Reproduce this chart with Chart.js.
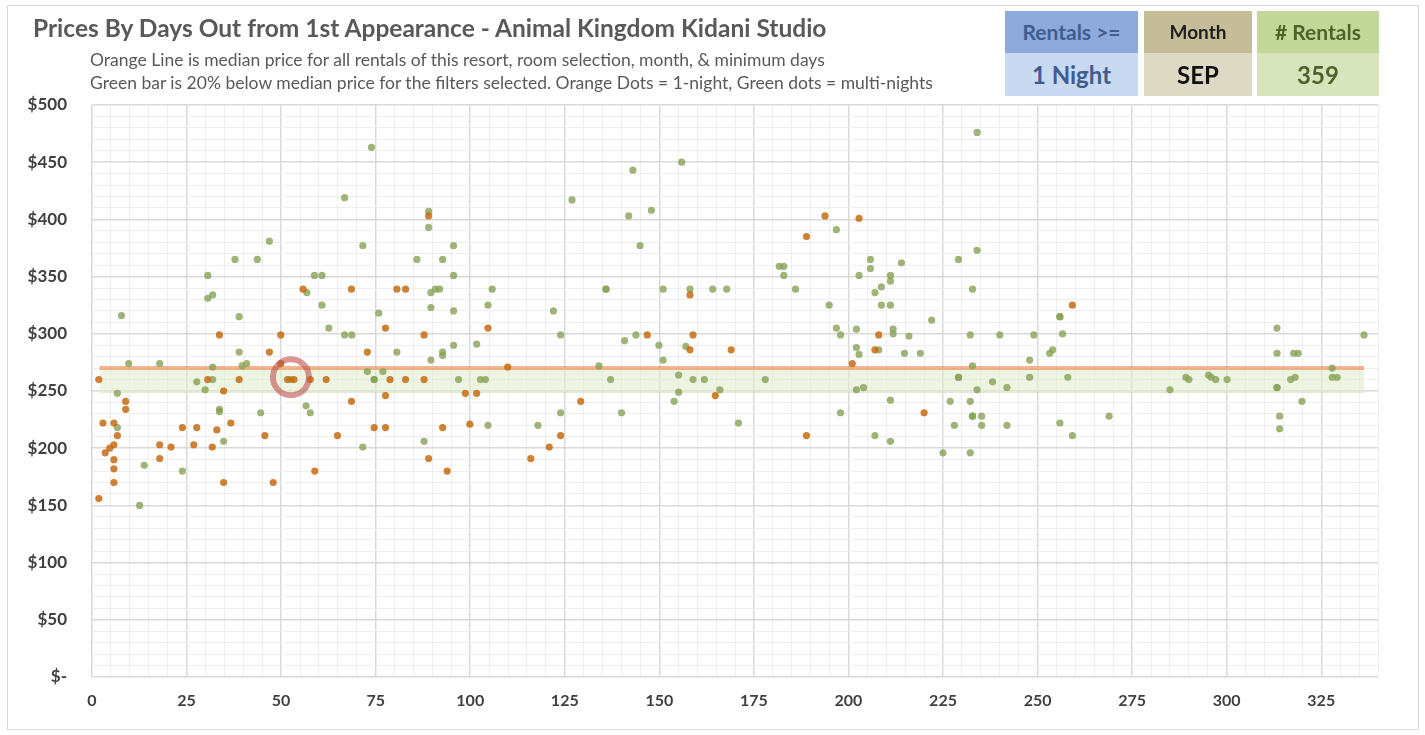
<!DOCTYPE html>
<html lang="en">
<head>
  <meta charset="UTF-8">
  <title>Prices By Days Out</title>
  <script src="https://cdn.jsdelivr.net/npm/chart.js"></script>
  <style>
    body { margin: 0; background: #fff; font-family: Lato, "Open Sans", sans-serif; }
    #frame { position: absolute; left: 7px; top: 5px; width: 1410px; height: 723px; border: 1px solid #D9D9D9; }
    #chart { position: absolute; left: 0; top: 0; }
    .txt { position: absolute; white-space: nowrap; color: #595959; }
    #title { left: 33px; top: 13px; font-size: 24.5px; font-weight: bold; line-height: 30px; }
    .sub { left: 90px; font-size: 17.5px; line-height: 22px; }
    .box { position: absolute; text-align: center; font-weight: bold; }
    .head { height: 42px; line-height: 42px; font-size: 21px; }
    .val { height: 43px; line-height: 43px; font-size: 24px; }
  </style>
</head>
<body>
  <div id="frame"></div>
  <canvas id="chart" width="1425" height="735"></canvas>
  <div class="txt" id="title">Prices By Days Out from 1st Appearance - Animal Kingdom Kidani Studio</div>
  <div class="txt sub" style="top:49px">Orange Line is median price for all rentals of this resort, room selection, month, &amp; minimum days</div>
  <div class="txt sub" style="top:72px">Green bar is 20% below median price for the filters selected. Orange Dots = 1-night, Green dots = multi-nights</div>

  <div class="box" style="left:1005px; top:11px; width:133px;">
    <div class="head" style="background:#8EA9DB; color:#3F5E8F;">Rentals &gt;=</div>
    <div class="val" style="background:#C9D9F1; color:#3F5E8F;">1 Night</div>
  </div>
  <div class="box" style="left:1144px; top:11px; width:108px;">
    <div class="head" style="background:#C4BD97; color:#1F1F1F; font-size:19px;">Month</div>
    <div class="val" style="background:#DDD9C4; color:#111;">SEP</div>
  </div>
  <div class="box" style="left:1257px; top:11px; width:122px;">
    <div class="head" style="background:#C4D79B; color:#4F6228;">&#35; Rentals</div>
    <div class="val" style="background:#D8E4BC; color:#4F6228;">359</div>
  </div>

  <script>
    // 1-night rentals (orange)
    const oneNightDays = [33.7, 1.8, 30.6, 38.9, 34.8, 8.9, 8.9, 2.9, 5.8, 6.7, 23.9, 27.7, 33, 36.7, 17.9, 20.9, 26.9, 31.8, 5.8, 4.7, 3.5, 5.8, 5.8, 5.8, 17.9, 34.8, 1.8,
      55.8, 68.6, 80.6, 82.9, 77.6, 49.9, 46.9, 72.8, 49.9, 51.7, 53.4, 57.7, 61.9, 78.8, 82.9, 77.6, 68.6, 45.7, 64.9, 74.6, 77.6, 58.9, 47.9,
      89, 87.8, 104.7, 109.9, 87.8, 98.7, 101.7, 129.2, 92.7, 99.9, 123.9, 120.9, 89, 93.9, 116,
      158.1, 146.8, 158.9, 158.1, 169, 164.8,
      193.8, 202.8, 188.9, 208, 207, 201, 188.9, 220, 259.2];
    const oneNightPrices = [299, 260, 260, 260, 250, 241, 234, 222, 222, 211, 218, 218, 216, 222, 203, 201, 203, 201, 203, 200, 196, 190, 182, 170, 191, 170, 156,
      339, 339, 339, 339, 305, 299, 284, 284, 274, 260, 260, 260, 260, 260, 260, 246, 241, 211, 211, 218, 218, 180, 170,
      403, 299, 305, 271, 260, 248, 248, 241, 218, 221, 211, 201, 191, 180, 191,
      334, 299, 299, 286, 286, 246,
      403, 401, 385, 299, 286, 274, 211, 231, 325];

    // multi-night rentals (green)
    const multiNightDays = [37.8, 43.7, 30.6, 30.6, 31.9, 7.8, 38.9, 38.9, 39.7, 40.9, 9.7, 17.9, 31.9, 27.7, 31.9, 29.9, 6.7, 33.7, 33.7, 44.6, 6.7, 34.8, 13.8, 23.9, 12.6,
      73.9, 66.8, 46.9, 71.6, 85.9, 58.8, 60.8, 56.8, 60.8, 75.8, 62.6, 66.8, 68.7, 80.6, 52.5, 72.8, 76.9, 74.6, 74.6, 56.6, 57.7, 71.6,
      126.9, 89, 89, 95.6, 92.7, 95.6, 89.6, 90.8, 91.9, 105.8, 104.7, 89.6, 95.6, 122, 123.9, 101.7, 95.6, 92.7, 92.7, 89.6, 96.9, 102.7, 104, 123.9, 104.7, 117.9, 87.8,
      155.9, 143, 147.9, 141.9, 144.9, 135.9, 135.9, 151, 158.1, 164.1, 167.8, 140.8, 143.8, 149.9, 157, 151, 134, 137.1, 155.1, 158.9, 161.9, 155.1, 166, 153.9, 140, 170.9,
      196.8, 181.7, 182.9, 182.9, 186, 205.8, 205.8, 214, 202.8, 211.1, 211.1, 208.7, 207, 194.9, 208.7, 211.1, 196.8, 197.9, 202.1, 211.8, 211.8, 202.1, 202.8, 208, 178, 202.1, 204, 211.1, 197.9, 207, 211.1,
      234, 234, 229.1, 232.8, 222, 216, 232.2, 240, 249, 214.8, 219, 253.2, 254, 255.9, 255.9, 256.6, 247.9, 232.8, 229.1, 229.1, 238.1, 247.9, 241.9, 234, 226.9, 232.2, 232.8, 232.8, 235.2, 228, 235.2, 241.9, 255.9, 225, 232.2,
      258, 259.2, 268.9, 285, 289.2, 290, 295.2, 295.9, 297.1,
      300.1, 313.3, 313.3, 317.7, 318.9, 313.3, 313.3, 316.9, 318.1, 319.9, 314, 314, 327.9, 327.9, 329.2, 336.3];
    const multiNightPrices = [365, 365, 351, 331, 334, 316, 315, 284, 272, 274, 274, 274, 271, 258, 260, 251, 248, 234, 232, 231, 218, 206, 185, 180, 150,
      463, 419, 381, 377, 365, 351, 351, 336, 325, 318, 305, 299, 299, 284, 260, 267, 267, 260, 260, 237, 231, 201,
      417, 407, 393, 377, 365, 351, 336, 339, 339, 339, 325, 323, 320, 320, 299, 291, 290, 284, 281, 277, 260, 260, 260, 231, 220, 220, 206,
      450, 443, 408, 403, 377, 339, 339, 339, 339, 339, 339, 294, 299, 290, 289, 277, 272, 260, 264, 260, 260, 249, 251, 241, 231, 222,
      391, 359, 359, 351, 339, 365, 357, 362, 351, 351, 346, 341, 336, 325, 325, 325, 305, 299, 304, 304, 300, 288, 282, 286, 260, 251, 253, 242, 231, 211, 206,
      476, 373, 365, 339, 312, 298, 299, 299, 299, 283, 283, 283, 286, 315, 315, 300, 277, 272, 262, 262, 258, 262, 253, 251, 241, 241, 228, 228, 228, 220, 220, 220, 222, 196, 196,
      262, 211, 228, 251, 262, 260, 264, 262, 260,
      260, 305, 283, 283, 283, 253, 253, 260, 262, 241, 228, 217, 270, 262, 262, 299];

    const medianPrice = 270;
    const bandLowPrice = 249;
    const bandStartDay = 2;
    const bandEndDay = 336.3;
    const highlightDay = 52.6;
    const highlightPrice = 262;

    const toPoints = (xs, ys) => xs.map((x, i) => ({ x: x, y: ys[i] }));

    const ctx = document.getElementById('chart').getContext('2d');
    new Chart(ctx, {
      type: 'scatter',
      data: {
        datasets: [
          {
            label: 'highlight',
            data: [{ x: highlightDay, y: highlightPrice }],
            pointRadius: 18,
            borderWidth: 6,
            borderColor: 'rgba(192,80,77,0.6)',
            backgroundColor: 'rgba(0,0,0,0)',
            order: 0
          },
          {
            label: '1-night',
            data: toPoints(oneNightDays, oneNightPrices),
            pointRadius: 3.6,
            borderWidth: 0,
            backgroundColor: 'rgba(196,102,8,0.82)',
            order: 1
          },
          {
            label: 'multi-nights',
            data: toPoints(multiNightDays, multiNightPrices),
            pointRadius: 3.6,
            borderWidth: 0,
            backgroundColor: 'rgba(134,162,85,0.8)',
            order: 2
          },
          {
            label: 'median',
            data: [{ x: bandStartDay, y: medianPrice }, { x: bandEndDay, y: medianPrice }],
            showLine: true,
            pointRadius: 0,
            borderWidth: 4,
            borderColor: 'rgba(234,150,95,0.7)',
            order: 3
          },
          {
            label: 'bandTop',
            data: [{ x: bandStartDay, y: medianPrice }, { x: bandEndDay, y: medianPrice }],
            showLine: true,
            pointRadius: 0,
            borderWidth: 0,
            borderColor: 'rgba(0,0,0,0)',
            backgroundColor: 'rgba(226,236,206,0.6)',
            fill: '+1',
            order: 4
          },
          {
            label: 'bandLow',
            data: [{ x: bandStartDay, y: bandLowPrice }, { x: bandEndDay, y: bandLowPrice }],
            showLine: true,
            pointRadius: 0,
            borderWidth: 1,
            borderColor: 'rgba(200,215,175,0.8)',
            order: 5
          }
        ]
      },
      options: {
        responsive: false,
        animation: false,
        layout: { padding: { top: 105, right: 47, bottom: 8, left: 0 } },
        plugins: { legend: { display: false }, tooltip: { enabled: false } },
        scales: {
          x: {
            type: 'linear',
            min: 0,
            max: 340,
            afterFit: scale => { scale.height = 50; },
            border: { display: false },
            grid: {
              drawTicks: false,
              color: c => (c.tick.value % 25 === 0 ? '#D9D9D9' : '#EEEEEE'),
              lineWidth: c => (c.tick.value % 25 === 0 ? 1.5 : 1)
            },
            ticks: {
              stepSize: 5,
              autoSkip: false,
              maxRotation: 0,
              padding: 14,
              color: '#404040',
              font: { family: 'Lato', size: 16, weight: 'bold' },
              callback: v => (v % 25 === 0 ? String(v) : '')
            }
          },
          y: {
            min: 0,
            max: 500,
            afterFit: scale => { scale.width = 92; },
            border: { display: false },
            grid: {
              drawTicks: false,
              color: c => (c.tick.value % 50 === 0 ? '#D9D9D9' : '#EEEEEE'),
              lineWidth: c => (c.tick.value % 50 === 0 ? 1.5 : 1)
            },
            ticks: {
              stepSize: 10,
              autoSkip: false,
              padding: 25,
              color: '#404040',
              font: { family: 'Lato', size: 17, weight: 'bold' },
              callback: v => (v % 50 === 0 ? (v === 0 ? '$-' : '$' + v) : '')
            }
          }
        }
      }
    });
  </script>
</body>
</html>
